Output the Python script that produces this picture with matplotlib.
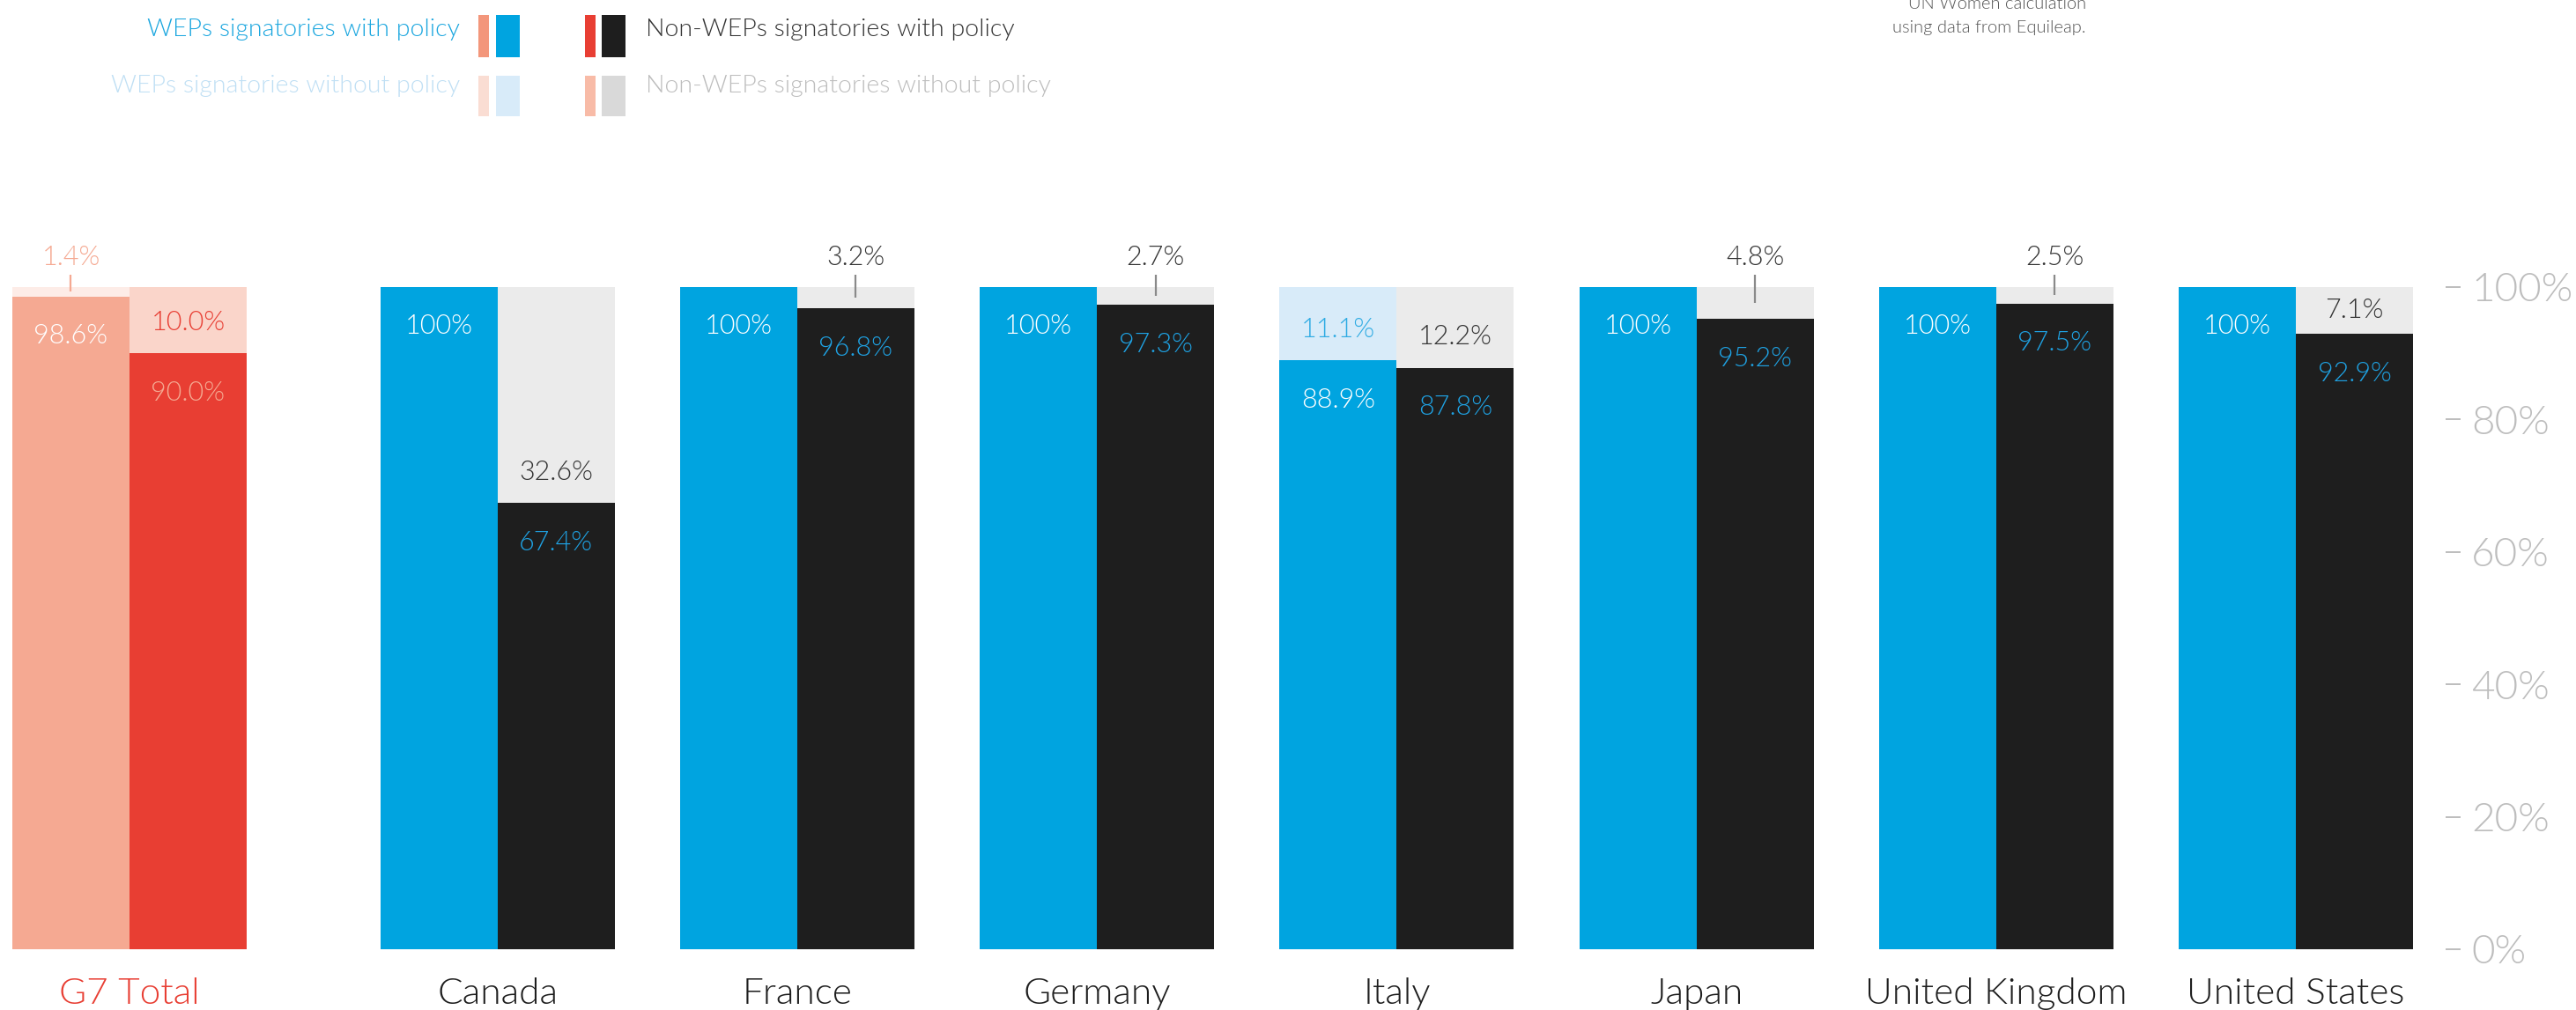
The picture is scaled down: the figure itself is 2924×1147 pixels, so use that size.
import numpy as np
import matplotlib
matplotlib.use("Agg")
import matplotlib.pyplot as plt
from matplotlib.patches import Rectangle

plt.rcParams['font.family'] = ['Lato', 'DejaVu Sans']
plt.rcParams['font.weight'] = 300

# ---- data -------------------------------------------------------------
categories = ["G7 Total", "Canada", "France", "Germany", "Italy",
              "Japan", "United Kingdom", "United States"]
weps_with = [98.6, 100, 100, 100, 88.9, 100, 100, 100]
weps_without = [1.4, 0, 0, 0, 11.1, 0, 0, 0]
non_weps_with = [90.0, 67.4, 96.8, 97.3, 87.8, 95.2, 97.5, 92.9]
non_weps_without = [10.0, 32.6, 3.2, 2.7, 12.2, 4.8, 2.5, 7.1]
y_ticks = [0, 20, 40, 60, 80, 100]
y_tick_labels = ["0%", "20%", "40%", "60%", "80%", "100%"]
legend_labels = ["WEPs signatories with policy", "Non-WEPs signatories with policy",
                 "WEPs signatories without policy", "Non-WEPs signatories without policy"]
source_lines = ["UN Women calculation", "using data from Equileap."]

# ---- styling ----------------------------------------------------------
BLUE = "#00A4E0"
LIGHT_BLUE = "#D8EBF9"
BLACK = "#1E1E1E"
GRAY = "#EBEBEB"
G7_WITH = "#F5A992"
G7_WITHOUT = "#FDECE7"
G7_NON_WITH = "#E83E33"
G7_NON_WITHOUT = "#FAD5CA"

W, H = 2924, 1147
fig = plt.figure(figsize=(W / 100, H / 100), dpi=100)
ax = fig.add_axes([0, 0.0602, 0.947, 0.6556])

n = len(categories)
pos = np.arange(n, dtype=float) - 1.0
pos[0] -= 0.228          # extra gap after the G7 total group
bw = 0.391

px_per_unit = 0.6556 * H / 100.0   # pixels per percentage point


def pxu(p):
    return p / px_per_unit


def fmt(v):
    return "100%" if v == 100 else f"{v:.1f}%"


for i in range(n):
    g7 = i == 0
    c_with = G7_WITH if g7 else BLUE
    c_without = G7_WITHOUT if g7 else LIGHT_BLUE
    c_nwith = G7_NON_WITH if g7 else BLACK
    c_nwithout = G7_NON_WITHOUT if g7 else GRAY
    xl = pos[i] - bw
    xr = pos[i]
    ax.bar(xl, weps_with[i], width=bw, align='edge', color=c_with, linewidth=0)
    ax.bar(xl, weps_without[i], bottom=weps_with[i], width=bw, align='edge',
           color=c_without, linewidth=0)
    ax.bar(xr, non_weps_with[i], width=bw, align='edge', color=c_nwith, linewidth=0)
    ax.bar(xr, non_weps_without[i], bottom=non_weps_with[i], width=bw, align='edge',
           color=c_nwithout, linewidth=0)

    # label colours per segment
    lab_with = "white"
    lab_nwith = G7_WITH if g7 else "#1FA2E3"
    lab_without = G7_WITH if g7 else "#2EABE3"
    lab_nwithout = G7_NON_WITH if g7 else "#333333"
    lead_col = G7_WITH if g7 else "#8A8A8A"

    segs = [
        (xl + bw / 2, weps_with[i], weps_without[i], lab_with, lab_without),
        (xr + bw / 2, non_weps_with[i], non_weps_without[i], lab_nwith, lab_nwithout),
    ]
    for cx, v_with, v_without, col_with, col_without in segs:
        ax.text(cx, v_with - pxu(45), fmt(v_with), ha='center', va='center',
                fontsize=22, color=col_with)
        if v_without <= 0:
            continue
        if v_without < 5:
            top_y = v_with + v_without
            mid = v_with + v_without / 2
            ax.plot([cx, cx], [top_y + pxu(14), mid], color=lead_col, lw=1.6,
                    solid_capstyle='butt', clip_on=False)
            ax.text(cx, top_y + pxu(33), fmt(v_without), ha='center', va='center',
                    fontsize=22, color=col_without, clip_on=False)
        else:
            ly = min(v_with + v_without / 2, v_with + pxu(35))
            ax.text(cx, ly, fmt(v_without), ha='center', va='center',
                    fontsize=22, color=col_without)

    ax.text(pos[i], -pxu(51), categories[i], ha='center', va='center',
            fontsize=30.5, color=G7_NON_WITH if g7 else "#1E1E1E", clip_on=False)

ax.set_xlim(-1.660, 6.479)
ax.set_ylim(0, 100)
for s in ax.spines.values():
    s.set_visible(False)
ax.spines['right'].set_position(('outward', 5))
ax.set_xticks([])
ax.yaxis.tick_right()
ax.set_yticks(y_ticks)
ax.set_yticklabels(y_tick_labels)
ax.tick_params(axis='y', length=12, width=1.4, color="#BDBDBD", pad=9,
               labelsize=33, labelcolor="#BDBDBD")
ax.patch.set_visible(False)

# ---- legend -----------------------------------------------------------


def fig_rect(x0, y0, x1, y1, color):
    fig.add_artist(Rectangle((x0 / W, 1 - y1 / H), (x1 - x0) / W, (y1 - y0) / H,
                             transform=fig.transFigure, color=color, linewidth=0))


rows = [(17, 65, 34), (86, 132, 98)]
small_left = ["#F3967B", "#FADDD3"]
big_left = [BLUE, LIGHT_BLUE]
small_right = [G7_NON_WITH, "#F8BBA7"]
big_right = [BLACK, "#D9D9D9"]
text_left = ["#1AA6DF", "#BFDFF4"]
text_right = ["#333333", "#BDBDBD"]
for r, (y0, y1, ty) in enumerate(rows):
    fig_rect(543, y0, 555, y1, small_left[r])
    fig_rect(563, y0, 590, y1, big_left[r])
    fig_rect(664, y0, 676, y1, small_right[r])
    fig_rect(683, y0, 710, y1, big_right[r])
    fig.text(522 / W, 1 - ty / H, legend_labels[2 * r], ha='right', va='center',
             fontsize=20.5, color=text_left[r])
    fig.text(733 / W, 1 - ty / H, legend_labels[2 * r + 1], ha='left', va='center',
             fontsize=20.5, color=text_right[r])

# ---- source note ------------------------------------------------------
fig.text(2368 / W, 1 - 5 / H, source_lines[0], ha='right', va='center',
         fontsize=14.5, color="#555555")
fig.text(2368 / W, 1 - 31 / H, source_lines[1], ha='right', va='center',
         fontsize=14.5, color="#555555")

fig.savefig("out.png", dpi=100, facecolor="white")
